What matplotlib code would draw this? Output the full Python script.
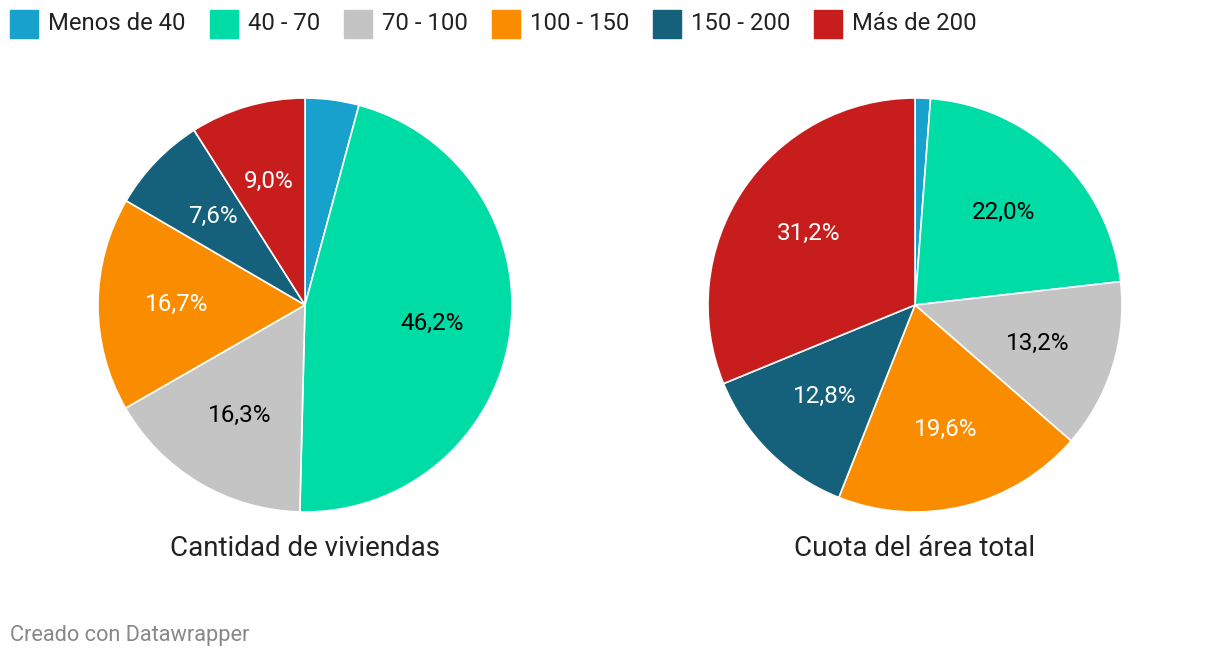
import matplotlib.pyplot as plt
from matplotlib.patches import Rectangle

plt.rcParams['font.family'] = ['Roboto', 'DejaVu Sans']

# Data
categories = ['Menos de 40', '40 - 70', '70 - 100', '100 - 150', '150 - 200', 'Más de 200']
colors = ['#18a1cd', '#00dca6', '#c4c4c4', '#fa8c00', '#15607a', '#c71e1d']
label_colors = ['white', 'black', 'black', 'white', 'white', 'white']
viviendas = [4.2, 46.2, 16.3, 16.7, 7.6, 9.0]
area_total = [1.2, 22.0, 13.2, 19.6, 12.8, 31.2]
titles = ['Cantidad de viviendas', 'Cuota del área total']

W, H = 1220, 660
fig = plt.figure(figsize=(W / 100, H / 100), dpi=100)

R = 207
centers = [(305, 305), (915, 305)]

for (cx, cy), vals, title in zip(centers, [viviendas, area_total], titles):
    ax = fig.add_axes([(cx - R) / W, (H - cy - R) / H, 2 * R / W, 2 * R / H])
    # small slices get no label
    wedges, texts = ax.pie(vals, colors=colors, startangle=90, counterclock=False,
                           labels=[f"{v:.1f}%".replace('.', ',') if v >= 5 else '' for v in vals],
                           labeldistance=0.62,
                           wedgeprops=dict(edgecolor='white', linewidth=1.2))
    for t, c in zip(texts, label_colors):
        t.set_color(c)
        t.set_fontsize(17.5)
        t.set_ha('center')
        t.set_va('center')
    ax.set_xlim(-1, 1)
    ax.set_ylim(-1, 1)
    ax.axis('off')
    fig.text(cx / W, 1 - 548 / H, title, ha='center', va='center', fontsize=20, color='#222222')

# Legend across the top
fig.canvas.draw()
renderer = fig.canvas.get_renderer()
x = 10
for cat, c in zip(categories, colors):
    fig.patches.append(Rectangle((x / W, 1 - 38 / H), 28 / W, 28 / H,
                                 transform=fig.transFigure, color=c))
    t = fig.text((x + 38) / W, 1 - 24 / H, cat, ha='left', va='center',
                 fontsize=17.2, color='#222222')
    w = t.get_window_extent(renderer).width
    x = x + 38 + w + 24

fig.text(10 / W, 1 - 636 / H, 'Creado con Datawrapper', ha='left', va='center',
         fontsize=15.7, color='#888888')

plt.savefig('out.png', dpi=100)
